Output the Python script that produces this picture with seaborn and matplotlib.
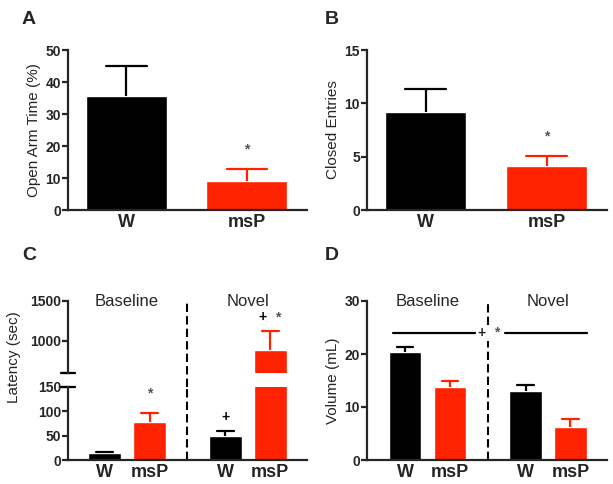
import numpy as np
import pandas as pd
import matplotlib
matplotlib.use('Agg')
import matplotlib.pyplot as plt
import seaborn as sns

strains = ['W', 'msP']
conditions = ['Baseline', 'Novel']

# panel A / B
open_arm = [35.5, 9.0]
open_arm_sem = [9.5, 3.7]
closed_entries = [9.2, 4.1]
closed_entries_sem = [2.1, 1.0]

# panel C / D, order: Baseline W, Baseline msP, Novel W, Novel msP
latency = [15, 78, 49, 890]
latency_sem = [2, 18, 10, 235]
volume = [20.4, 13.8, 13.0, 6.3]
volume_sem = [1.0, 1.2, 1.2, 1.5]

palette = {'W': 'black', 'msP': '#ff2200'}
star_grey = '#555555'

sns.set_style('ticks')
plt.rcParams['font.family'] = ['Liberation Sans', 'DejaVu Sans']

W, H = 613, 484
fig = plt.figure(figsize=(W / 100, H / 100), dpi=100)


def box(x0, y0, x1, y1):
    # pixel box -> figure fraction
    return [x0 / W, 1 - y1 / H, (x1 - x0) / W, (y1 - y0) / H]


def style_axis(ax, xticks=True):
    sns.despine(ax=ax)
    for s in ['left', 'bottom']:
        ax.spines[s].set_linewidth(1.6)
    ax.tick_params(width=1.6, length=4, labelsize=10, pad=1)
    for lab in ax.get_yticklabels():
        lab.set_fontweight('bold')
    if xticks:
        ax.tick_params(axis='x', length=0, labelsize=13, pad=3)
        for lab in ax.get_xticklabels():
            lab.set_fontweight('bold')


def add_errors(ax, bars, labels, values, sem):
    # upper-only error bars, cap half as wide as the bar
    tops = []
    for bar, lab, v, e in zip(bars, labels, values, sem):
        cx = bar.get_x() + bar.get_width() / 2
        half = bar.get_width() / 4
        ax.plot([cx, cx], [v, v + e], color=palette[lab], lw=1.6, solid_capstyle='butt')
        ax.plot([cx - half, cx + half], [v + e, v + e], color=palette[lab], lw=1.6)
        tops.append((cx, v + e))
    return tops


def mark(ax, xy, text, color, dx=0, dy=9):
    ax.annotate(text, xy, xytext=(dx, dy), textcoords='offset points',
                ha='center', va='bottom', color=color, fontsize=10,
                fontweight='bold', annotation_clip=False)


def simple_panel(ax, values, sem, ylabel, ymax, step):
    df = pd.DataFrame({'strain': strains, 'value': values})
    sns.barplot(data=df, x='strain', y='value', hue='strain', palette=palette,
                width=0.67, saturation=1, errorbar=None, legend=False, ax=ax)
    bars = sorted(ax.patches, key=lambda p: p.get_x())
    tops = add_errors(ax, bars, strains, values, sem)
    mark(ax, tops[1], '*', star_grey)
    ax.set_xlim(-0.485, 1.5)
    ax.set_ylim(0, ymax)
    ax.set_yticks(np.arange(0, ymax + 1, step))
    ax.set_xlabel('')
    ax.set_ylabel(ylabel, fontsize=11, labelpad=3)
    style_axis(ax)


def grouped_bars(ax, values):
    df = pd.DataFrame({'condition': np.repeat(conditions, 2),
                       'strain': strains * 2, 'value': values})
    sns.barplot(data=df, x='condition', y='value', hue='strain', palette=palette,
                width=0.745, gap=0.27, saturation=1, errorbar=None,
                legend=False, ax=ax)
    return sorted(ax.patches, key=lambda p: p.get_x())


# ---- A ----
axA = fig.add_axes(box(68, 50, 307, 210))
simple_panel(axA, open_arm, open_arm_sem, 'Open Arm Time (%)', 50, 10)

# ---- B ----
axB = fig.add_axes(box(367, 50, 607, 210))
simple_panel(axB, closed_entries, closed_entries_sem, 'Closed Entries', 15, 5)

# ---- C (broken axis) ----
axC = fig.add_axes(box(68, 387, 307, 460))
axCt = fig.add_axes(box(68, 301, 307, 373))
barsC = grouped_bars(axC, latency)
barsCt = grouped_bars(axCt, latency)
labels4 = strains * 2
topsC = add_errors(axC, barsC, labels4, latency, latency_sem)
add_errors(axCt, barsCt, labels4, latency, latency_sem)
for a in (axC, axCt):
    a.set_xlim(-0.489, 1.49)
    a.set_xlabel('')
    a.set_ylabel('')
axC.set_ylim(0, 150)
axC.set_yticks([0, 50, 100, 150])
axCt.set_ylim(600, 1500)
axCt.set_yticks([600, 1000, 1500])
axCt.set_yticklabels(['', '1000', '1500'])
axC.set_xticks([b.get_x() + b.get_width() / 2 for b in barsC])
axC.set_xticklabels(labels4)
style_axis(axC)
style_axis(axCt, xticks=False)
axCt.spines['bottom'].set_visible(False)
axCt.tick_params(axis='x', bottom=False, labelbottom=False)
axC.plot([-0.03, 0.03], [1, 1], transform=axC.transAxes, color='black', lw=1.6, clip_on=False)
axCt.plot([-0.03, 0.03], [0, 0], transform=axCt.transAxes, color='black', lw=1.6, clip_on=False)
axC.axvline(0.5, color='black', lw=1.5, ls=(0, (4, 2)), clip_on=False)
axCt.axvline(0.5, ymin=-0.2, ymax=1, color='black', lw=1.5, ls=(0, (4, 2)), clip_on=False)
fig.text(14 / W, 1 - 357 / H, 'Latency (sec)', rotation=90,
         ha='center', va='center', fontsize=11)
mark(axC, topsC[1], '*', star_grey)
mark(axC, topsC[2], '+', 'black', dy=5)
ctop = (topsC[3][0], latency[3] + latency_sem[3])
mark(axCt, ctop, '+', 'black', dx=-5.5, dy=5)
mark(axCt, ctop, '*', star_grey, dx=5.5, dy=5)
axCt.text(0, 1500, 'Baseline', ha='center', va='center', fontsize=12)
axCt.text(1, 1500, 'Novel', ha='center', va='center', fontsize=12)

# ---- D ----
axD = fig.add_axes(box(367, 301, 607, 460))
barsD = grouped_bars(axD, volume)
add_errors(axD, barsD, labels4, volume, volume_sem)
axD.set_xlim(-0.502, 1.49)
axD.set_ylim(0, 30)
axD.set_yticks([0, 10, 20, 30])
axD.set_xticks([b.get_x() + b.get_width() / 2 for b in barsD])
axD.set_xticklabels(labels4)
axD.set_xlabel('')
axD.set_ylabel('Volume (mL)', fontsize=11, labelpad=3)
style_axis(axD)
axD.plot([0.5, 0.5], [0, 22.5], color='black', lw=1.5, ls=(0, (4, 2)))
axD.plot([0.5, 0.5], [25.5, 30], color='black', lw=1.5, ls=(0, (4, 2)), clip_on=False)
axD.plot([-0.286, 0.394], [24, 24], color='black', lw=1.6)
axD.plot([0.643, 1.324], [24, 24], color='black', lw=1.6)
axD.text(0.45, 24, '+', ha='center', va='center', fontsize=10, fontweight='bold')
axD.text(0.577, 24, '*', ha='center', va='center', fontsize=10, fontweight='bold', color=star_grey)
axD.text(0, 30, 'Baseline', ha='center', va='center', fontsize=12)
axD.text(1, 30, 'Novel', ha='center', va='center', fontsize=12)

for letter, x, y in [('A', 22, 20), ('B', 325, 20), ('C', 22, 255), ('D', 325, 255)]:
    fig.text(x / W, 1 - y / H, letter, fontsize=14, fontweight='bold', va='center')

fig.savefig('out.png', dpi=100)
